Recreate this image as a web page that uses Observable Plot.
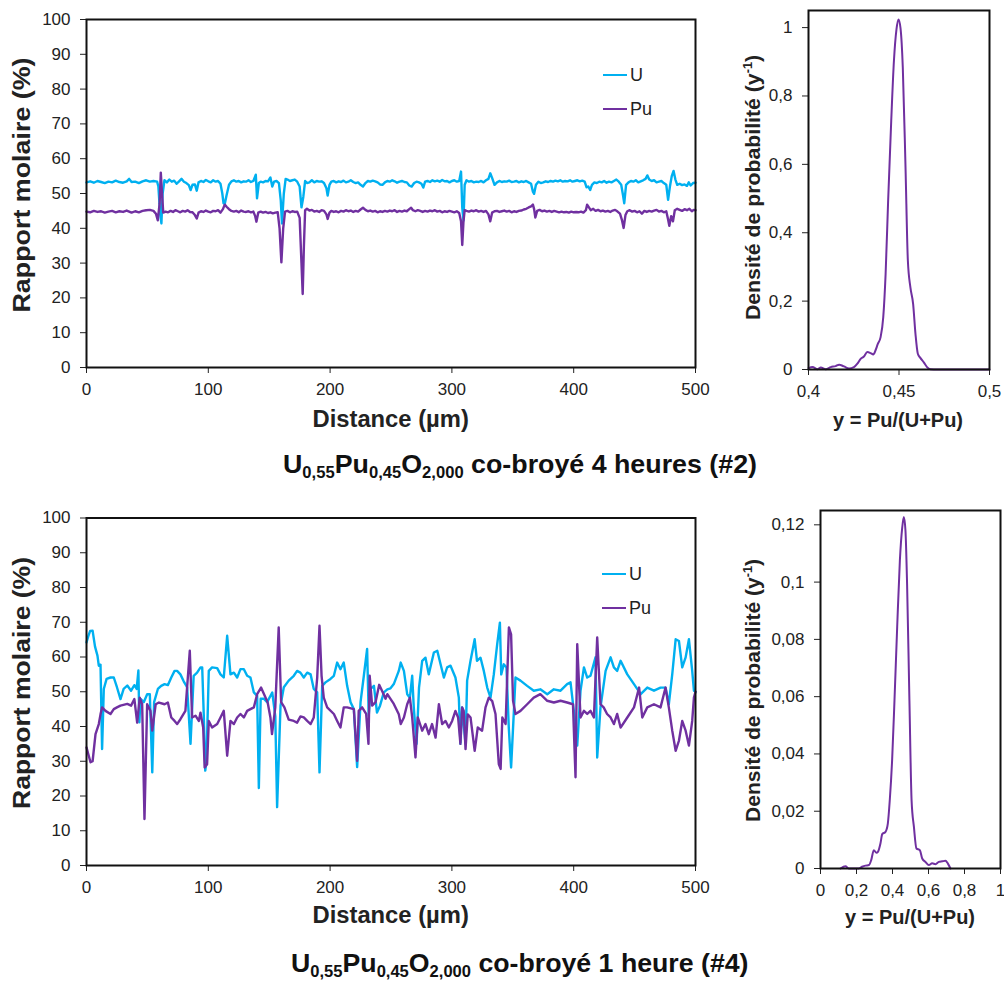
<!DOCTYPE html>
<html><head><meta charset="utf-8">
<script src="https://cdn.jsdelivr.net/npm/d3@7"></script>
<script src="https://cdn.jsdelivr.net/npm/@observablehq/plot@0.6"></script>
<style>
body{margin:0;background:#fff;}
#wrap{position:relative;width:1004px;height:981px;overflow:hidden;font-family:"Liberation Sans",Arial,sans-serif;color:#222;}
.chart{position:absolute;}
.chart svg{overflow:visible;}
.ttl{position:absolute;font-weight:bold;white-space:nowrap;line-height:1;}
.main{position:absolute;font-weight:bold;white-space:nowrap;line-height:1;color:#111;}
.main sub{font-size:62%;vertical-align:-0.28em;}
.leg{position:absolute;font-size:18px;line-height:22px;}
</style></head><body>
<div id="wrap"></div>
<script>
// ---------- data ----------
const series = ["U", "Pu"];
const colors = ["#00B0F0", "#7030A0"];
const distTicks = [0, 100, 200, 300, 400, 500];
const pctTicks = [0, 10, 20, 30, 40, 50, 60, 70, 80, 90, 100];

// Top: co-broyé 4 heures (#2) — [distance µm, %]
const uTop = [[0,53.2],[3,53.5],[6,53.1],[9,53.6],[12,53.3],[15,53.0],[18,53.4],[21,53.2],[24,53.7],[27,53.3],[30,53.1],[33,53.5],[35,54.2],[37,53.3],[40,53.4],[43,53.0],[46,53.5],[49,53.8],[52,53.4],[55,53.6],[58,53.4],[59,52.0],[60.5,44],[61.5,41.4],[62.5,50],[64,53.8],[66,53.2],[68,54.0],[70,53.4],[72,53.7],[74,52.8],[76,53.5],[78,54.2],[80,53.4],[82,53.0],[84,52.4],[85.5,51.0],[87,52.5],[89,52.6],[90.5,50.8],[92,53.2],[94,53.6],[96,53.3],[98,53.9],[100,53.5],[102,53.2],[104,53.8],[106,53.4],[108,53.6],[110,52.8],[111.5,50.0],[112.5,47.2],[113.5,47.0],[115,49.5],[117,52.5],[119,53.5],[121,53.8],[123,53.4],[125,53.6],[127,53.2],[129,53.5],[131,53.4],[133,53.8],[135,53.3],[137,53.6],[139,55.4],[140,48.6],[141.5,53.0],[143,53.4],[145,53.2],[147,53.6],[149,53.5],[151,54.6],[152.5,52.0],[154,53.4],[156,53.6],[158,53.0],[159.5,48],[160.5,41.4],[162,50],[163.5,54.2],[165,54.0],[167,53.6],[169,53.8],[171,54.0],[173,53.4],[175,52.0],[176.5,46],[178,49],[179.5,53.6],[181,53.0],[183,53.2],[185,53.8],[187,53.2],[189,53.6],[191,53.4],[193,53.5],[195,53.0],[197,51.5],[198,49.4],[199.5,52.5],[201,53.4],[203,53.6],[205,53.2],[207,53.5],[209,53.3],[211,53.7],[213,53.2],[215,53.4],[217,53.8],[219,53.3],[221,53.0],[223,53.2],[225,52.5],[227,52.0],[229,53.0],[231,53.6],[233,53.4],[235,53.7],[237,53.5],[239,53.2],[241,52.6],[243,52.5],[245,53.2],[247,53.6],[249,53.4],[251,53.8],[253,53.5],[255,53.1],[257,53.4],[259,53.6],[261,53.3],[263,53.2],[265,52.3],[267,52.0],[269,53.0],[271,53.4],[273,53.2],[275,52.8],[276.5,51.7],[278,53.4],[280,53.6],[282,53.3],[284,53.8],[286,53.5],[288,53.7],[290,53.4],[292,53.9],[294,53.5],[296,53.6],[298,53.2],[300,53.6],[302,53.8],[304,53.4],[306,53.6],[307.5,56.3],[308.5,46],[309.5,42.2],[310.5,52.5],[312,53.8],[314,53.4],[316,53.6],[318,53.2],[320,53.4],[322,53.3],[324,53.6],[326,53.2],[328,53.8],[330,54.2],[331.5,55.8],[333,54.5],[335,52.5],[337,53.2],[339,53.6],[341,53.3],[343,53.5],[345,53.4],[347,53.7],[349,53.3],[351,53.4],[353,53.6],[355,53.2],[357,53.5],[359,53.3],[361,53.6],[363,53.2],[365,52.8],[366.5,50.5],[367.5,49.9],[369,52.5],[371,53.4],[373,53.0],[375,53.2],[377,53.5],[379,53.3],[381,53.6],[383,53.4],[385,53.7],[387,53.5],[389,53.8],[391,53.4],[393,53.6],[395,53.5],[397,53.8],[399,53.4],[401,53.6],[403,53.8],[405,53.5],[407,53.7],[409,53.4],[410.5,51.8],[412,52.0],[413.5,51.0],[415,52.5],[417,53.2],[419,53.0],[421,53.4],[423,53.2],[425,53.6],[427,53.1],[429,53.4],[431,53.2],[433,53.6],[435,54.0],[437,53.4],[439,52.5],[440.5,49.5],[441.5,47.2],[443,52.5],[445,53.2],[447,53.6],[449,53.4],[451,53.8],[453,53.2],[455,53.5],[457,53.8],[459,54.2],[460.5,55.2],[462,54.0],[464,53.6],[466,53.8],[468,53.2],[470,53.4],[472,53.6],[474,53.0],[476,52.5],[477.5,48.2],[479,52.0],[480.5,55.0],[482,56.5],[483.5,54.0],[485,52.5],[487,52.8],[489,52.4],[491,52.6],[493,52.2],[494.5,53.2],[496,52.3],[498,53.0],[500,53.1]];
const puTop = [[0,44.8],[3,44.6],[6,45.0],[9,44.7],[12,44.9],[15,44.5],[18,44.8],[21,45.0],[24,44.6],[27,44.9],[30,44.7],[33,45.1],[35,44.8],[37,44.5],[40,44.9],[43,44.6],[46,45.0],[49,45.2],[52,45.3],[55,45.0],[57,44.2],[58.5,42.3],[60,47],[61,56],[62,50],[63,44.5],[65,44.8],[67,44.6],[69,45.0],[71,44.7],[73,45.2],[75,44.9],[77,44.6],[79,45.0],[81,44.8],[83,45.2],[85,44.7],[87,44.6],[89,43.8],[90.5,42.8],[92,44.5],[94,44.9],[96,44.7],[98,45.1],[100,44.8],[102,44.6],[104,45.0],[106,44.9],[108,45.2],[110,44.5],[112,45.5],[113.5,46.8],[115,46.2],[117,45.5],[119,45.0],[121,44.8],[123,45.0],[125,44.6],[127,45.1],[129,44.8],[131,44.7],[133,44.9],[135,44.6],[137,44.8],[138.5,43.5],[139.5,41.9],[141,44.5],[143,44.8],[145,44.5],[147,44.7],[149,44.4],[151,44.6],[153,44.3],[155,44.5],[157,44.6],[158.5,40],[160,30.2],[161.5,40],[163,44.8],[165,45.0],[167,44.6],[169,44.9],[171,44.7],[173,44.8],[175,43],[176.5,30],[177.5,21.1],[178.5,35],[179.5,45.2],[181,45.6],[183,45.1],[185,45.3],[187,44.8],[189,45.0],[191,44.7],[193,45.2],[195,45.0],[197,44.0],[198,42.7],[199.5,44.5],[201,45.0],[203,44.7],[205,44.9],[207,44.6],[209,45.0],[211,44.8],[213,45.2],[215,44.9],[217,45.1],[219,44.7],[221,45.0],[223,44.8],[225,45.4],[227,45.9],[229,45.3],[231,44.9],[233,45.1],[235,44.8],[237,45.0],[239,44.6],[241,44.9],[243,44.7],[245,45.0],[247,44.8],[249,45.1],[251,44.9],[253,45.2],[255,44.7],[257,45.0],[259,44.8],[261,45.1],[263,44.9],[265,45.5],[266.5,45.9],[268,45.2],[270,44.9],[272,45.2],[274,45.0],[276,44.7],[278,45.0],[280,44.8],[282,45.1],[284,44.9],[286,45.2],[288,44.8],[290,45.0],[292,44.6],[294,44.9],[296,44.7],[298,45.0],[300,44.8],[302,44.6],[304,44.9],[306,44.4],[307.5,42],[308.5,35.2],[309.5,42],[310.5,45.2],[312,45.0],[314,44.8],[316,45.1],[318,44.9],[320,45.2],[322,44.8],[324,45.0],[326,44.7],[328,45.0],[330,44.0],[331.5,42.0],[333,44.5],[335,44.9],[337,45.0],[339,44.7],[341,44.9],[343,45.1],[345,44.8],[347,45.0],[349,44.6],[351,44.9],[353,44.7],[355,45.0],[357,45.1],[359,45.4],[361,45.6],[363,46.0],[365,46.3],[366.5,46.8],[367.5,45.5],[368.5,43.1],[370,45.0],[372,45.3],[374,44.9],[376,45.1],[378,44.8],[380,45.0],[382,44.7],[384,45.0],[386,44.8],[388,44.6],[390,44.8],[392,44.6],[394,44.7],[396,44.5],[398,44.8],[400,44.6],[402,44.7],[404,44.6],[406,44.8],[408,44.5],[410,45.2],[411,46.8],[412.5,46.0],[414,45.2],[416,45.6],[418,45.0],[420,45.3],[422,44.9],[424,45.1],[426,44.8],[428,45.0],[430,44.7],[432,45.1],[434,45.3],[436,44.8],[438,44.2],[439.5,42.5],[441,40.1],[442.5,43.8],[444,44.9],[446,45.2],[448,44.8],[450,45.0],[452,44.6],[454,44.9],[456,44.2],[458,45.0],[460,44.7],[462,45.0],[464,44.8],[466,45.1],[468,45.3],[470,44.8],[472,45.0],[474,44.6],[476,44.9],[477.5,42.5],[478.5,40.7],[480,43.5],[481.5,42.0],[483,45.2],[485,45.6],[487,45.3],[489,45.0],[491,45.5],[493,45.2],[495,45.6],[497,44.9],[498.5,45.3],[500,45.2]];

// Bottom: co-broyé 1 heure (#4) — [distance µm, %]
const uBot = [[0,64.2],[1.5,66],[3,67.5],[5,67.6],[7,63],[9,60.4],[10.1,57.5],[11.5,57.8],[12.8,33.5],[14.2,50.8],[16.5,53.7],[19.7,54.1],[22.4,54.1],[25,51.3],[27.9,47.9],[30.5,50.8],[33.5,51.8],[36.6,50.3],[39.3,51.9],[41.2,50.8],[42.6,56.1],[43.4,41.2],[44.3,48],[47,47],[49.8,49.3],[52,49.3],[54,26.8],[55.5,47],[58.6,50.8],[61.3,51.7],[64.1,52.2],[66.8,51.9],[69.6,54.1],[72.3,56],[74.4,56],[77.1,55],[79.8,53],[82.6,51.3],[85.4,35],[88,54.6],[90.8,55.5],[93.6,57],[95,57],[96.3,43.1],[97.5,27.3],[98.5,30],[100.4,56],[103.1,57],[107.3,56.8],[110,55],[112.7,54.1],[115.5,66.1],[118.2,55],[121,55.5],[123.7,54.1],[126.4,56.5],[129.2,56.5],[131.9,54.6],[134.6,54.1],[137.4,49.8],[140.1,48.8],[141.5,22.3],[143,48],[145.6,48],[148.3,47],[152.5,49.8],[155,43],[156.5,16.8],[159.3,46],[162,51.3],[166,53.2],[170.2,54.6],[172.9,56],[175.6,55.5],[178.4,54.1],[181.2,55.5],[184,55],[186.6,50.8],[189.4,49.8],[191.3,26.8],[193.5,51.7],[196.2,52.7],[200.3,53.7],[203.1,54.6],[205.8,58.4],[208.5,56.5],[211.2,58.4],[214,51.7],[216.8,47],[219.5,45],[222.2,28.3],[225,47],[227.7,54.6],[230.4,62.3],[231.7,43.1],[233.2,50.8],[236,51.7],[238.5,44],[241,46],[244.1,49.8],[247,50.7],[249.6,51],[252.3,52.2],[256.4,56],[258,58.4],[260.6,56],[263.3,49.3],[265.5,48.3],[267.4,54.6],[268.7,45.5],[271,35],[273,51.2],[275.6,58.9],[278.3,59.8],[281,55],[285.2,61.3],[288,61.8],[290.7,57.9],[293.4,54.1],[296.1,57],[298.9,57.5],[302.9,54.1],[305.7,48.3],[307,35],[308.4,45.5],[311.2,35],[312.5,53.2],[315.3,58.9],[318.7,65.1],[320.6,58.9],[323.5,59.8],[326.2,56],[329,51.2],[331.7,48.3],[334.4,55],[337.2,63.7],[339.4,69.9],[340.5,55],[342.6,57.9],[344.8,57],[346.7,39.7],[348.6,28.2],[350.9,44.5],[352.2,54.1],[356.3,53.2],[361.8,51.7],[367.2,50.3],[372.6,50.7],[378.3,49.3],[383.7,50.7],[389.2,50.3],[394.6,52.2],[397.4,52.7],[400.1,44.5],[402.9,34.5],[405.6,50.3],[408.4,57],[411.1,54.1],[413.8,54.6],[417.9,59.9],[419.3,31.1],[422,45.5],[426.2,56],[430.3,59.9],[433,57],[435.7,56],[438.5,58.9],[444,55],[449.5,52.2],[455,49.3],[460.4,51.2],[465.9,50.3],[471.3,51.2],[475.4,51.2],[478.1,46.4],[480.9,55],[483.7,65.1],[486.4,64.6],[489.1,57],[491.9,59.9],[494.6,65.1],[497.3,56],[498.7,50.3],[500,50]];
const puBot = [[0,34],[1.5,32],[3.3,29.7],[5,30],[7.4,37.8],[10.1,40.7],[11.5,43.5],[12.8,45.5],[15.6,44.5],[19.7,43.6],[22.4,45],[25,45.5],[27.9,46],[33.5,46.5],[36.6,46],[39.3,47.9],[41.6,41.1],[43.7,48.3],[45.7,46.4],[47.6,13.4],[49.8,46.4],[52.5,44.5],[54,38.8],[56.8,46.4],[59.5,46.9],[64.1,46.4],[66.8,46.9],[69.6,42.6],[72.3,41.6],[74.4,40.7],[77.1,42.1],[81.2,44.5],[84.8,61.8],[86.7,42.6],[89.5,43.1],[92.2,41.6],[93.6,44],[95.8,39.7],[97,28.2],[99,29.1],[100.4,41.6],[103.1,39.7],[107.3,40.7],[110,42.6],[112.7,44.5],[115.5,31.6],[118.2,41.6],[121,40.7],[123.7,42.6],[126.4,43.6],[129.2,42.6],[131.9,44.5],[134.6,45],[137.4,45.5],[140.1,49.3],[143.3,51.2],[148.7,47],[151,42.6],[152.3,37.8],[155,45.5],[157.8,68.5],[159.8,47],[162.5,45.5],[166,42],[170.2,41.6],[172.9,41.1],[175.7,42.9],[178.4,42.6],[181.2,41.6],[184,40.7],[186.6,42.6],[189.4,54],[191.3,69],[193,54.6],[194.8,48.3],[197.6,45.5],[203.1,43.6],[205.8,41.6],[208.5,39.7],[211.2,45.5],[214,45.5],[219.5,45],[222.2,30.1],[223.5,44.5],[226.3,45.5],[229.6,43.6],[231.5,35],[232.5,54.6],[234.5,46],[237.3,47],[240.3,52],[243,50],[245.5,48],[247,49.3],[252.3,46.5],[256.4,43.5],[258,40.7],[260.6,42.6],[263.3,46.4],[265.5,48.3],[267.4,42.6],[270.1,31.1],[272,42.6],[275.6,38.8],[278.3,40.7],[281,37.8],[283.7,40.7],[286.6,36.8],[289.3,46.4],[292,40.7],[294.8,41.6],[297.5,39.7],[300.2,41.6],[302.9,44.5],[305.1,42.6],[307,35],[308.4,45.5],[309.7,44.5],[311.2,33.5],[313,43.5],[315.3,42.6],[318.7,33],[321.2,39.7],[324.8,38.8],[327.6,45.5],[330.3,48.3],[333.1,47.3],[335.8,43.6],[338.5,29.2],[340,27.8],[341.4,42.6],[344.1,40.7],[346.8,68.5],[348.6,66.5],[350.2,47.4],[352.2,43.6],[356.3,44.5],[361.8,46.4],[367.2,48.3],[372.6,49.3],[378.3,47.4],[383.7,46.9],[389.2,47.4],[394.6,46.9],[399.4,46.4],[401.5,25.4],[402.9,63.7],[405.6,42.6],[408.4,44.5],[411.1,43.6],[413.8,44.5],[416.6,42.6],[419.3,65.6],[422,46.4],[424.6,45.5],[427.4,43.6],[430.3,42.6],[433,40.7],[435.7,43.6],[438.5,39.7],[444,42.6],[449.5,45.5],[453.7,51.2],[456.3,42.6],[460.4,45.5],[465.9,46.4],[471.3,45.5],[475.4,51.2],[478.1,45.5],[480.9,38.8],[483.7,33],[486.4,35.9],[489.1,41.6],[491.9,38.8],[494.6,34.5],[497.3,41.6],[498.7,48.3],[500,50]];

// Probability densities — [y = Pu/(U+Pu), density]
const densTop = [[0.4,0.004],[0.4022,0.007],[0.405,0.001],[0.4068,0.006],[0.4095,0.001],[0.4123,0.007],[0.415,0.01],[0.4169,0.014],[0.4196,0.009],[0.4224,0.003],[0.4251,0.007],[0.427,0.017],[0.4288,0.031],[0.4306,0.038],[0.4325,0.051],[0.4343,0.048],[0.4358,0.044],[0.4371,0.057],[0.4383,0.075],[0.4398,0.094],[0.4413,0.153],[0.4426,0.279],[0.444,0.494],[0.4457,0.727],[0.4472,0.903],[0.4486,0.995],[0.4497,1.024],[0.4508,1.0],[0.4521,0.883],[0.4536,0.591],[0.4549,0.318],[0.4563,0.24],[0.4578,0.192],[0.4591,0.104],[0.4604,0.046],[0.4618,0.034],[0.4637,0.021],[0.4655,0.007],[0.4673,0.001],[0.471,0],[0.5,0]];
const densBot = [[0.111,0],[0.139,0.0008],[0.157,0],[0.213,0],[0.231,0.0006],[0.25,0.001],[0.269,0.0012],[0.282,0.003],[0.296,0.0064],[0.311,0.0055],[0.319,0.0058],[0.333,0.0087],[0.343,0.012],[0.361,0.0128],[0.374,0.0157],[0.385,0.024],[0.398,0.038],[0.411,0.0587],[0.426,0.0843],[0.441,0.1076],[0.454,0.119],[0.463,0.1227],[0.472,0.118],[0.481,0.0994],[0.494,0.0587],[0.506,0.0238],[0.519,0.0145],[0.533,0.007],[0.552,0.0064],[0.565,0.0035],[0.583,0.0023],[0.602,0.0012],[0.62,0.0018],[0.639,0.0015],[0.657,0.0023],[0.676,0.0025],[0.694,0.0027],[0.707,0.0018],[0.722,0]];
const yTopTicks = [0.4, 0.45, 0.5];
const dTopTicks = [0, 0.2, 0.4, 0.6, 0.8, 1];
const yBotTicks = [0, 0.2, 0.4, 0.6, 0.8, 1];
const dBotTicks = [0, 0.02, 0.04, 0.06, 0.08, 0.1, 0.12];

// ---------- drawing ----------
const wrap = document.getElementById("wrap");
const comma = d => String(d).replace(".", ",");
const FONT = '"Liberation Sans", Arial, sans-serif';

function rows(u, pu) {
  return [...u.map(([d, v]) => ({d, v, s: series[0]})), ...pu.map(([d, v]) => ({d, v, s: series[1]}))];
}
function place(el, left, top) {
  const box = document.createElement("div");
  box.className = "chart"; box.style.left = left + "px"; box.style.top = top + "px";
  box.appendChild(el); wrap.appendChild(box);
}
function axes(xt, yt) {
  return [
    Plot.axisX({ticks: xt, tickFormat: comma, tickSize: 6, tickPadding: 9, fontSize: 17, label: null}),
    Plot.axisY({ticks: yt, tickFormat: comma, tickSize: 6, tickPadding: 10, fontSize: 17, label: null}),
    Plot.frame({stroke: "#111", strokeWidth: 2})
  ];
}
function profile(data, mt, mb) {
  return Plot.plot({
    width: 700, height: 400, marginLeft: 86, marginRight: 5, marginTop: mt, marginBottom: mb,
    style: {fontFamily: FONT, color: "#222", background: "transparent"},
    x: {domain: [0, 500]}, y: {domain: [0, 100]},
    color: {domain: series, range: colors},
    marks: [
      Plot.line(data, {x: "d", y: "v", z: "s", stroke: "s", strokeWidth: 2.4, curve: "linear"}),
      ...axes(distTicks, pctTicks)
    ]
  });
}
function density(data, xdom, xt, ydom, yt, ml, mr, mt, mb) {
  return Plot.plot({
    width: 264, height: 400, marginLeft: ml, marginRight: mr, marginTop: mt, marginBottom: mb,
    style: {fontFamily: FONT, color: "#222", background: "transparent"},
    x: {domain: xdom}, y: {domain: ydom},
    marks: [
      Plot.line(data, {x: d => d[0], y: d => d[1], stroke: colors[1], strokeWidth: 2, curve: "monotone-x"}),
      ...axes(xt, yt)
    ]
  });
}

place(profile(rows(uTop, puTop), 19, 33), 0, 0);
place(density(densTop, [0.4, 0.5], yTopTicks, [0, 1.05], dTopTicks, 68, 15, 10, 31), 740, 0);
place(profile(rows(uBot, puBot), 17.5, 35), 0, 500);
place(density(densBot, [0, 1], yBotTicks, [0, 0.125], dBotTicks, 80, 4, 10, 32), 740, 500);

// titles: centred at (x, y), fitted to the reference text length
function label(html, x, y, cls, size, len, rotate) {
  const el = document.createElement("div");
  el.className = cls; el.style.fontSize = size + "px";
  el.innerHTML = html; wrap.appendChild(el);
  const w = el.offsetWidth, h = el.offsetHeight;
  el.style.left = (x - w / 2) + "px"; el.style.top = (y - h / 2) + "px";
  const k = len / w;
  el.style.transform = (rotate ? "rotate(-90deg) " : "") + `scaleX(${k})`;
}
const sup = "<sup style='font-size:60%'>-1</sup>";
label("Rapport molaire (%)", 22, 185, "ttl", 24, 255, true);
label("Rapport molaire (%)", 22, 683, "ttl", 24, 252, true);
label("Distance (µm)", 390, 419, "ttl", 23, 156);
label("Distance (µm)", 390, 915, "ttl", 23, 156);
label(`Densité de probabilité (y${sup})`, 752, 187, "ttl", 21, 265, true);
label(`Densité de probabilité (y${sup})`, 752, 690, "ttl", 21, 263, true);
label("y = Pu/(U+Pu)", 898, 420, "ttl", 20, 130);
label("y = Pu/(U+Pu)", 910, 917, "ttl", 20, 130);
label("U<sub>0,55</sub>Pu<sub>0,45</sub>O<sub>2,000</sub> co-broyé 4 heures (#2)", 520, 465, "main", 26, 474);
label("U<sub>0,55</sub>Pu<sub>0,45</sub>O<sub>2,000</sub> co-broyé 1 heure (#4)", 520, 964, "main", 26, 458);

function legend(x, y) {
  series.forEach((s, i) => {
    const ln = document.createElement("div");
    ln.style.cssText = `position:absolute;left:${x}px;top:${y + i * 34 - 1}px;width:24px;height:2px;background:${colors[i]}`;
    wrap.appendChild(ln);
    const t = document.createElement("div");
    t.className = "leg"; t.textContent = s;
    t.style.left = (x + 27) + "px"; t.style.top = (y + i * 34 - 11) + "px";
    wrap.appendChild(t);
  });
}
legend(603, 75);
legend(602, 574);
</script>
</body></html>
